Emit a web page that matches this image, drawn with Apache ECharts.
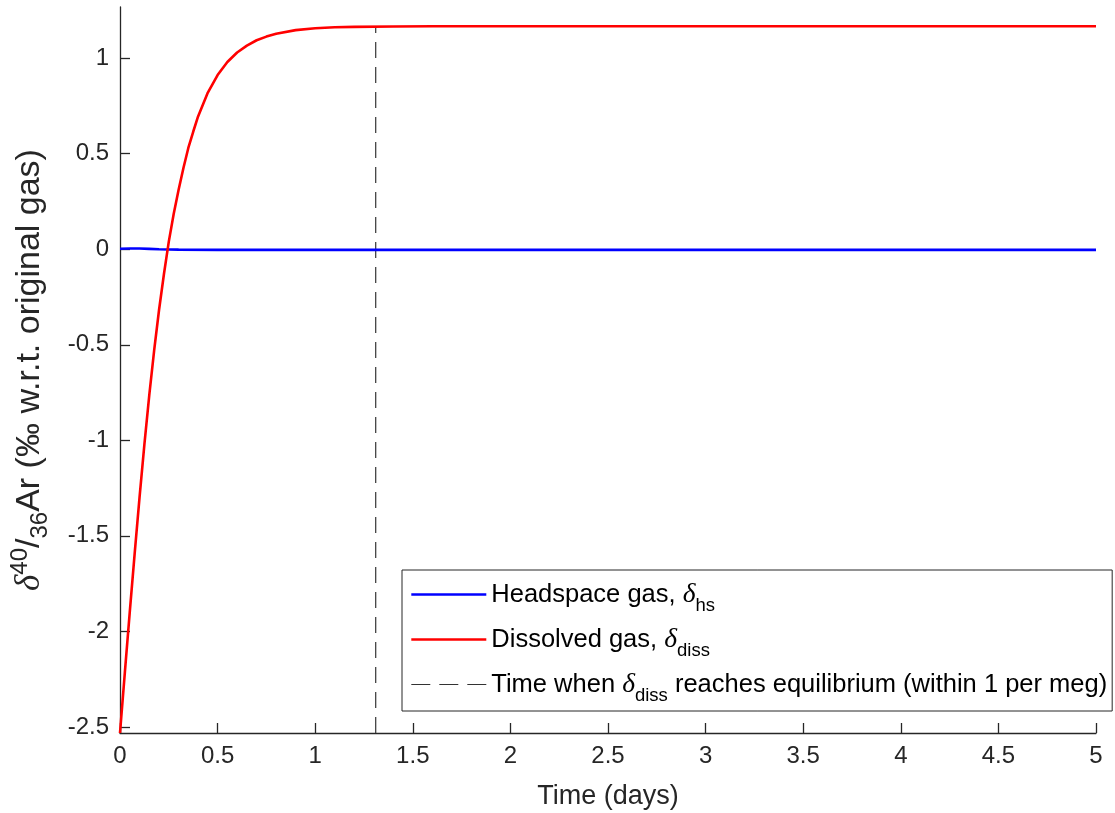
<!DOCTYPE html>
<html>
<head>
<meta charset="utf-8">
<script src="https://cdn.jsdelivr.net/npm/echarts@6/dist/echarts.min.js"></script>
<style>
html,body{margin:0;padding:0;background:#fff;}
#chart{width:1115px;height:813px;}
</style>
</head>
<body>
<div id="chart"></div>
<script>
// ---- data ----
const dissTime = [0, 0.025, 0.05, 0.075, 0.1, 0.125, 0.15, 0.175, 0.2, 0.225, 0.25, 0.275, 0.3, 0.325, 0.35, 0.375, 0.4, 0.45, 0.5, 0.55, 0.6, 0.65, 0.7, 0.75, 0.8, 0.9, 1.0, 1.1, 1.2, 1.4, 1.6, 2.0, 3.0, 4.0, 5.0];
const dissolved = [-2.532, -2.213, -1.899, -1.594, -1.300, -1.021, -0.764, -0.529, -0.318, -0.131, 0.040, 0.185, 0.310, 0.425, 0.530, 0.615, 0.695, 0.820, 0.912, 0.980, 1.030, 1.066, 1.094, 1.113, 1.128, 1.147, 1.157, 1.162, 1.164, 1.166, 1.167, 1.167, 1.167, 1.167, 1.167];
const hsTime = [0, 0.05, 0.1, 0.15, 0.2, 0.3, 0.5, 1.0, 2.0, 3.0, 4.0, 5.0];
const headspace = [0.003, 0.004, 0.004, 0.002, 0.0, -0.002, -0.003, -0.003, -0.003, -0.003, -0.003, -0.003];
const eqTime = 1.31;
const eqRange = [-2.532, 1.167];
const xTicks = [0, 0.5, 1, 1.5, 2, 2.5, 3, 3.5, 4, 4.5, 5];
const yTicks = [-2.5, -2, -1.5, -1, -0.5, 0, 0.5, 1];
const yLimits = [-2.532, 1.268];
const seriesNames = ['Headspace gas', 'Dissolved gas', 'Time when'];
const legendTexts = {
  'Headspace gas': '{n|Headspace gas, }{d|δ}{sub|hs}',
  'Dissolved gas': '{n|Dissolved gas, }{d|δ}{sub|diss}',
  'Time when': '{n|Time when }{d|δ}{sub|diss}{n| reaches equilibrium (within 1 per meg)}'
};
const yName = '{d|δ}{sup|40}{n|/}{sub|36}{n|Ar (‰ w.r.t. original gas)}';
const xName = 'Time (days)';

const FONT = '"Liberation Sans", Arial, Helvetica, sans-serif';
const SERIF = '"Liberation Serif", "Times New Roman", serif';
const AX = '#262626';

const chart = echarts.init(document.getElementById('chart'), null, {renderer: 'canvas'});
chart.setOption({
  animation: false,
  backgroundColor: '#fff',
  grid: {left: 120, right: 19, top: 7, bottom: 80, containLabel: false, outerBoundsMode: 'none'},
  xAxis: {
    type: 'value', min: 0, max: 5, interval: 0.5,
    name: xName, nameLocation: 'middle', nameGap: 50,
    nameTextStyle: {fontFamily: FONT, fontSize: 27, color: AX},
    axisLine: {show: true, onZero: false, lineStyle: {color: AX, width: 1.3}},
    axisTick: {show: true, inside: true, length: 10, lineStyle: {color: AX, width: 1.3}},
    axisLabel: {fontFamily: FONT, fontSize: 24, color: AX, margin: 11, showMinLabel: true, showMaxLabel: true},
    splitLine: {show: false}
  },
  yAxis: {
    type: 'value', min: yLimits[0], max: yLimits[1],
    name: yName, nameLocation: 'middle', nameGap: 68, nameRotate: 90,
    nameTextStyle: {
      fontFamily: FONT, fontSize: 34, color: AX,
      rich: {
        n: {fontFamily: FONT, fontSize: 34, color: AX},
        d: {fontFamily: SERIF, fontStyle: 'italic', fontSize: 35, color: AX},
        sup: {fontFamily: FONT, fontSize: 24, color: AX, padding: [0, 0, 20, 0]},
        sub: {fontFamily: FONT, fontSize: 24, color: AX, padding: [20, 0, 0, 0]}
      }
    },
    axisLine: {show: true, onZero: false, lineStyle: {color: AX, width: 1.3}},
    axisTick: {show: true, inside: true, length: 10, customValues: yTicks, lineStyle: {color: AX, width: 1.3}},
    axisLabel: {fontFamily: FONT, fontSize: 24, color: AX, margin: 11, customValues: yTicks},
    splitLine: {show: false}
  },
  legend: {
    orient: 'vertical', left: 402, top: 570,
    data: [
      {name: seriesNames[0], lineStyle: {width: 2.6}},
      {name: seriesNames[1], lineStyle: {width: 2.6}},
      {name: seriesNames[2], lineStyle: {width: 1.2, type: [19, 9]}}
    ],
    backgroundColor: '#fff', borderColor: AX, borderWidth: 1, borderRadius: 0,
    padding: [11, 5, 6, 8], itemGap: 11, itemWidth: 75, itemHeight: 14,
    itemStyle: {opacity: 0},
    formatter: function (name) { return legendTexts[name]; },
    textStyle: {
      color: '#000', fontFamily: FONT, fontSize: 25.5,
      rich: {
        n: {fontFamily: FONT, fontSize: 25.5, color: '#000'},
        d: {fontFamily: SERIF, fontStyle: 'italic', fontSize: 27.5, color: '#000'},
        sub: {fontFamily: FONT, fontSize: 18.5, color: '#000', padding: [22, 0, 0, 0]}
      }
    }
  },
  series: [
    {
      name: seriesNames[0], type: 'line', showSymbol: false, symbol: 'none',
      data: hsTime.map((t, i) => [t, headspace[i]]),
      lineStyle: {color: '#0000ff', width: 2.6}, itemStyle: {color: '#0000ff'},
      z: 3
    },
    {
      name: seriesNames[1], type: 'line', showSymbol: false, symbol: 'none',
      data: dissTime.map((t, i) => [t, dissolved[i]]),
      lineStyle: {color: '#ff0000', width: 2.6}, itemStyle: {color: '#ff0000'},
      z: 4
    },
    {
      name: seriesNames[2], type: 'line', showSymbol: false, symbol: 'none',
      data: eqRange.map(v => [eqTime, v]),
      lineStyle: {color: '#333333', width: 1.2, type: [16, 9]}, itemStyle: {color: '#333333'},
      z: 2
    }
  ]
});
</script>
</body>
</html>
